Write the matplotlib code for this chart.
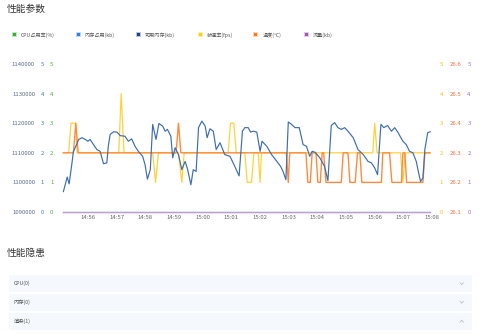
import numpy as np
import pandas as pd
import matplotlib
matplotlib.use("Agg")
import matplotlib.pyplot as plt
from matplotlib.patches import Rectangle
from matplotlib.lines import Line2D
from matplotlib.ticker import FuncFormatter

plt.rcParams["font.family"] = ["Noto Sans CJK SC", "DejaVu Sans"]

# ---- data ----
mem_free_time = [
    "14:55:08", "14:55:16", "14:55:20", "14:55:26", "14:55:29", "14:55:34", "14:55:40",
    "14:55:47", "14:55:54", "14:55:59", "14:56:04", "14:56:11", "14:56:18", "14:56:25",
    "14:56:32", "14:56:39", "14:56:42", "14:56:46", "14:56:53", "14:57:00", "14:57:07",
    "14:57:17", "14:57:24", "14:57:31", "14:57:38", "14:57:45", "14:57:54", "14:57:59",
    "14:58:04", "14:58:10", "14:58:15", "14:58:22", "14:58:28", "14:58:36", "14:58:41",
    "14:58:46", "14:58:53", "14:58:57", "14:59:02", "14:59:09", "14:59:16", "14:59:23",
    "14:59:28", "14:59:35", "14:59:40", "14:59:46", "14:59:51", "14:59:58", "15:00:05",
    "15:00:09", "15:00:15", "15:00:22", "15:00:28", "15:00:36", "15:00:46", "15:00:57",
    "15:01:07", "15:01:16", "15:01:23", "15:01:28", "15:01:35", "15:01:40", "15:01:46",
    "15:01:53", "15:02:00", "15:02:04", "15:02:14", "15:02:24", "15:02:35", "15:02:43",
    "15:02:48", "15:02:54", "15:02:59", "15:03:06", "15:03:13", "15:03:22", "15:03:30",
    "15:03:37", "15:03:44", "15:03:49", "15:03:55", "15:04:05", "15:04:15", "15:04:22",
    "15:04:29", "15:04:36", "15:04:43", "15:04:50", "15:04:57", "15:05:04", "15:05:15",
    "15:05:25", "15:05:36", "15:05:46", "15:05:53", "15:06:00", "15:06:06", "15:06:13",
    "15:06:19", "15:06:27", "15:06:35", "15:06:42", "15:06:49", "15:06:59", "15:07:06",
    "15:07:13", "15:07:20", "15:07:27", "15:07:32", "15:07:36", "15:07:41", "15:07:45",
    "15:07:51", "15:07:56",
]
mem_free_kb = [
    1096900, 1101800, 1099500, 1106600, 1110500, 1112200, 1114500,
    1115100, 1114500, 1113900, 1114500, 1112800, 1111100, 1110500,
    1106300, 1106600, 1112200, 1116200, 1117100, 1117000, 1115800,
    1115600, 1113900, 1114700, 1112200, 1110500, 1108800, 1106000,
    1101100, 1104300, 1119600, 1114500, 1119900, 1119000, 1117300,
    1117900, 1115600, 1108300, 1111700, 1109400, 1104300, 1107100,
    1104500, 1099200, 1104300, 1103700, 1118500, 1120700, 1119000,
    1115100, 1118100, 1117300, 1111100, 1113400, 1109400, 1108800,
    1105400, 1102200, 1117300, 1118500, 1118500, 1117000, 1117300,
    1117000, 1110500, 1113900, 1112200, 1109400, 1107100, 1105400,
    1103700, 1100900, 1120400, 1119600, 1118500, 1118500, 1112800,
    1112200, 1108800, 1110500, 1110200, 1108300, 1105400, 1100600,
    1119200, 1120200, 1118500, 1117900, 1118500, 1117300, 1115100,
    1111100, 1109400, 1107100, 1106600, 1104900, 1102600, 1119600,
    1118500, 1119200, 1117300, 1118500, 1116800, 1113900, 1112800,
    1110500, 1110000, 1107100, 1103200, 1100300, 1101500, 1111100,
    1116800, 1117100,
]

fps_time = [
    "14:55:08", "14:55:19", "14:55:24", "14:55:33", "14:55:37", "14:57:04", "14:57:09",
    "14:57:15", "14:58:15", "14:58:21", "14:58:27", "14:59:09", "14:59:16", "14:59:21",
    "15:00:53", "15:00:58", "15:01:05", "15:01:10", "15:01:28", "15:01:33", "15:01:42",
    "15:01:47", "15:01:56", "15:02:00", "15:02:03", "15:05:56", "15:06:00", "15:06:05",
    "15:06:54", "15:06:59", "15:07:04", "15:07:56",
]
fps = [
    2, 2, 3, 3, 2, 2, 4,
    2, 2, 1, 2, 2, 1, 2,
    2, 3, 3, 2, 2, 1, 1,
    2, 2, 1, 2, 2, 3, 2,
    2, 1, 2, 2,
]

temp_time = [
    "14:55:08", "14:55:29", "14:55:34", "14:55:39", "14:59:04", "14:59:09", "14:59:14",
    "15:02:55", "15:02:59", "15:03:02", "15:03:36", "15:03:40", "15:03:45", "15:03:49",
    "15:03:57", "15:04:01", "15:04:06", "15:04:10", "15:04:13", "15:04:18", "15:04:50",
    "15:04:54", "15:05:04", "15:05:08", "15:05:19", "15:05:24", "15:05:29", "15:05:33",
    "15:06:14", "15:06:17", "15:06:31", "15:06:36", "15:06:56", "15:06:59", "15:07:03",
    "15:07:07", "15:07:41", "15:07:45", "15:07:56",
]
temp_c = [
    26.3, 26.3, 26.4, 26.3, 26.3, 26.4, 26.3,
    26.3, 26.2, 26.3, 26.3, 26.2, 26.2, 26.3,
    26.3, 26.2, 26.2, 26.3, 26.3, 26.2, 26.2,
    26.3, 26.3, 26.2, 26.2, 26.3, 26.3, 26.2,
    26.2, 26.3, 26.3, 26.2, 26.2, 26.3, 26.3,
    26.2, 26.2, 26.3, 26.3,
]

flow_time = ["14:55:08", "15:07:56"]
flow_kb = [0, 0]
cpu_pct = [0, 0]
mem_used_kb = [0, 0]

legend_labels = ["CPU占用率(%)", "内存占用(kb)", "可用内存(kb)", "帧速率(fps)", "温度(°C)", "流量(kb)"]
issue_rows = ["CPU(0)", "内存(0)", "渲染(1)"]


def to_dt(ts):
    return pd.to_datetime(["2019-01-01 " + t for t in ts])


W, H = 480, 334
fig = plt.figure(figsize=(W / 100, H / 100), dpi=100)
fig.patch.set_facecolor("white")


def fx(px):
    return px / W


def fy(py):
    return 1 - py / H


C_CPU = "#34b233"
C_MEMU = "#2f7fe8"
C_MEMF = "#1e3f8c"
C_LINE = "#3d6db0"
C_FPS = "#ffd23c"
C_TEMP = "#ff8a3d"
C_FLOW = "#c49ad6"

fig.text(fx(7), fy(8.5), "性能参数", fontsize=7, color="#333333", va="center", ha="left")

# legend row
leg_x = [11.5, 75.5, 135.5, 197.5, 253.5, 303.5]
leg_c = [C_CPU, C_MEMU, C_MEMF, "#ffd000", "#ff7a1a", "#a355b8"]
for lx, lc, lab in zip(leg_x, leg_c, legend_labels):
    fig.patches.append(Rectangle((fx(lx), fy(37.2)), fx(5), 5 / H, transform=fig.transFigure,
                                 facecolor=lc, alpha=0.3, edgecolor="none"))
    fig.patches.append(Rectangle((fx(lx + 1), fy(36.2)), fx(3), 3 / H, transform=fig.transFigure,
                                 facecolor=lc, edgecolor="none"))
    fig.text(fx(lx + 9), fy(34.8), lab, fontsize=3.7, color="#555555", va="center", ha="left")

# main axes
ax = fig.add_axes([fx(61), fy(212), fx(432 - 61), (212 - 64) / H])
t0 = pd.Timestamp("2019-01-01 14:55:03")
t1 = pd.Timestamp("2019-01-01 15:08:00")

tick_kw = dict(length=0, labelsize=4.3)

ax.set_ylim(1090000, 1140000)
ax.set_yticks(np.arange(1090000, 1140001, 10000))
ax.yaxis.set_major_formatter(FuncFormatter(lambda v, _: f"{int(round(v))}"))
ax.tick_params(axis="y", pad=18.7, labelcolor="#5b6b88", **tick_kw)
ax.tick_params(axis="x", pad=2.3, labelcolor="#666666", **tick_kw)


# secondary scales
def side_axis(side, pad, color, lo, hi, ticks, fmt=None):
    a = ax.twinx()
    a.set_ylim(lo, hi)
    a.set_yticks(ticks)
    if fmt:
        a.set_yticklabels([fmt.format(v) for v in ticks])
    if side == "left":
        a.yaxis.tick_left()
    else:
        a.yaxis.tick_right()
    a.tick_params(axis="y", pad=pad, labelcolor=color, **tick_kw)
    for s in a.spines.values():
        s.set_visible(False)
    a.patch.set_visible(False)
    return a


ax_memu = side_axis("left", 12.2, "#3b7ddd", 0, 5, range(6))
ax_cpu = side_axis("left", 5.4, "#4aab3a", 0, 5, range(6))
ax_fps = side_axis("right", 5.4, "#f2c318", 0, 5, range(6))
ax_temp = side_axis("right", 12.5, "#f0703a", 26.1, 26.6,
                    [26.1, 26.2, 26.3, 26.4, 26.5, 26.6], "{:.1f}")
ax_flow = side_axis("right", 25.5, "#a070b8", 0, 5, range(6))

for s in ax.spines.values():
    s.set_visible(False)

ft = to_dt(flow_time)
ax_cpu.plot(ft, cpu_pct, color=C_CPU, lw=0.8, clip_on=False)
ax_memu.plot(ft, mem_used_kb, color=C_MEMU, lw=0.8, clip_on=False)
ax_flow.plot(ft, flow_kb, color=C_FLOW, lw=0.9, clip_on=False, zorder=3)
ax_fps.plot(to_dt(fps_time), fps, color=C_FPS, lw=0.9, zorder=2)
ax_temp.plot(to_dt(temp_time), temp_c, color=C_TEMP, lw=1.0, zorder=3)

# separate layer so the memory curve sits above the other series
ax_line = ax.twinx()
ax_line.set_ylim(ax.get_ylim())
ax_line.set_yticks([])
for s in ax_line.spines.values():
    s.set_visible(False)
ax_line.patch.set_visible(False)
ax_line.plot(to_dt(mem_free_time), mem_free_kb, color=C_LINE, lw=0.85)

for a in (ax, ax_memu, ax_cpu, ax_fps, ax_temp, ax_flow, ax_line):
    a.set_xlim(t0, t1)
ticks = pd.date_range("2019-01-01 14:56", "2019-01-01 15:08", freq="1min")
ax.set_xticks(ticks)
ax.set_xticklabels([t.strftime("%H:%M") for t in ticks])

# lower panel
fig.text(fx(7), fy(253), "性能隐患", fontsize=7, color="#333333", va="center", ha="left")
row_top = [275, 293.5, 312.5]
for rt, lab, up in zip(row_top, issue_rows, [False, False, True]):
    fig.patches.append(Rectangle((fx(9.3), fy(rt + 17)), fx(463), 17 / H, transform=fig.transFigure,
                                 facecolor="#f5f8fc", edgecolor="none"))
    cy = rt + 8.7
    fig.text(fx(14), fy(cy), lab, fontsize=3.8, color="#555555", va="center", ha="left")
    d = -1 if up else 1
    fig.lines.append(Line2D([fx(460), fx(461.7), fx(463.4)],
                            [fy(cy - d), fy(cy + d), fy(cy - d)],
                            transform=fig.transFigure, color="#b5b9c0", lw=0.5))

fig.savefig("out.png", dpi=100, facecolor="white")
